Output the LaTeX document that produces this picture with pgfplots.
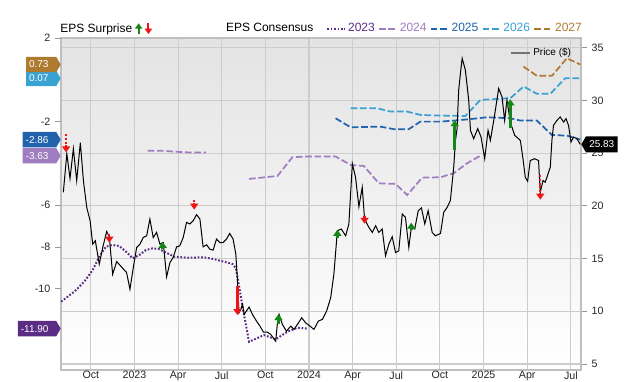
\documentclass[border=0pt]{standalone}
\usepackage{pgfplots}
\pgfplotsset{compat=1.18}
\usepackage{pgfplotstable}
\usepackage{fontspec}
\setmainfont{Liberation Sans}
\usetikzlibrary{shapes.symbols,arrows.meta}
\definecolor{c2023}{RGB}{91,44,131}
\definecolor{c2024}{RGB}{160,124,192}
\definecolor{c2025}{RGB}{33,99,172}
\definecolor{c2026}{RGB}{58,161,211}
\definecolor{c2027}{RGB}{174,122,48}
\definecolor{upg}{RGB}{20,135,20}
\definecolor{dnr}{RGB}{240,20,20}

\pgfplotstableread{
m P
-4.89 21.29
-4.65 24.94
-4.43 22.59
-4.20 25.42
-3.97 22.40
-3.72 25.99
-3.51 22.40
-3.28 19.86
-3.05 18.59
-2.87 16.37
-2.69 16.69
-2.42 14.47
-2.18 16.05
-1.91 17.57
-1.73 17.07
-1.50 13.51
-1.22 14.71
-0.54 13.67
-0.31 12.09
-0.08 14.14
0.15 16.05
0.38 16.37
0.60 16.99
0.84 17.16
1.06 18.75
1.29 16.99
1.52 17.48
1.75 16.37
1.98 16.52
2.21 13.26
2.44 14.62
2.66 15.10
2.90 16.11
3.12 16.21
3.35 16.99
3.58 18.43
3.81 18.28
4.04 18.59
4.27 19.16
4.50 18.75
4.72 16.11
4.96 16.30
5.18 15.89
5.41 15.80
5.64 16.85
5.87 16.52
6.09 16.52
6.33 16.85
6.55 17.38
6.78 16.85
6.97 15.42
7.08 12.88
7.19 9.86
7.31 10.18
7.43 10.66
7.54 9.70
7.70 10.02
7.88 10.40
8.11 9.70
8.39 9.07
8.63 8.59
8.87 8.02
9.14 8.02
9.37 7.80
9.71 7.16
9.83 8.90
9.94 9.70
10.17 8.75
10.45 8.11
10.74 8.59
10.97 8.28
11.20 8.75
11.50 9.38
11.77 8.90
12.07 8.59
12.34 8.28
12.64 9.07
12.92 9.23
13.21 10.02
13.49 11.28
13.71 13.51
13.95 17.64
14.22 17.80
14.52 17.16
14.74 18.27
14.86 21.13
14.98 23.99
15.20 22.71
15.43 19.92
15.66 21.76
15.82 18.75
16.12 17.95
16.35 17.48
16.58 18.11
16.80 17.48
17.03 17.80
17.26 15.26
17.49 16.37
17.72 17.07
17.95 15.57
18.17 15.73
18.41 19.23
18.63 18.91
18.86 16.05
19.05 18.11
19.27 17.80
19.51 19.54
19.73 19.80
19.96 18.28
20.19 19.54
20.47 17.48
20.69 17.16
21.04 17.38
21.26 19.38
21.50 19.86
21.72 20.50
21.95 23.67
22.07 26.21
22.18 27.32
22.29 30.97
22.41 32.56
22.53 33.99
22.75 32.88
22.98 30.02
23.10 27.16
23.32 26.37
23.60 27.32
23.83 26.52
24.08 24.47
24.31 27.16
24.47 26.21
24.74 28.43
25.04 31.13
25.27 30.33
25.45 28.11
25.61 30.02
25.84 27.95
26.14 26.69
26.53 26.21
26.71 24.47
26.87 22.71
27.03 22.33
27.21 24.30
27.51 24.47
27.78 24.30
27.90 21.29
28.09 22.40
28.24 22.24
28.59 23.67
28.70 26.21
28.81 27.64
29.05 28.11
29.27 28.43
29.50 27.95
29.67 28.27
29.84 27.64
30.01 26.05
30.19 26.52
30.42 26.37
30.65 25.83
}\price

\pgfplotstableread{
m P v
-4.70 26.78 -1.71
-1.73 17.35 -0.85
4.11 20.59 -0.95
27.90 22.88 -2.29
}\reddot
\pgfplotstableread{
m P v
7.08 12.40 -2.76
15.82 19.07 -0.77
}\redsolid
\pgfplotstableread{
m P v
1.94 15.92 0.67
9.90 8.78 0.95
13.95 16.97 0.76
19.03 17.73 0.67
22.02 25.26 2.86
25.84 27.35 2.76
}\green

\tikzset{
  tagL/.style={signal, signal to=east, signal pointer angle=120, fill=#1, text=white,
    font=\fontsize{7.5}{8}\selectfont, inner xsep=2.3pt, inner ysep=0pt, minimum height=11.5pt, anchor=east},
  tagR/.style={signal, signal to=west, signal pointer angle=120, fill=#1, text=white,
    font=\fontsize{7.5}{8}\selectfont, inner xsep=2.5pt, inner ysep=0pt, minimum height=12pt, anchor=west},
  cdots/.style={line width=1.5pt, dash pattern=on 1.3pt off 1.3pt},
  cdash/.style={line width=1.3pt, dash pattern=on 5pt off 2pt},
}

\pgfplotsset{
  common/.style={at={(45.75pt,9pt)}, anchor=south west, width=390pt, height=249pt,
    scale only axis, xmin=-5.05, xmax=30.7,
    /pgf/number format/assume math mode=true,
    ticklabel style={font=\fontsize{8}{9}\selectfont, text=black!85},
    tick align=outside, major tick length=4.5pt},
}

\begin{document}
\begin{tikzpicture}
\useasboundingbox (0,0) rectangle (480pt,286.5pt);

% Axis 1: price scale, background, grid
\begin{axis}[common,
  ymin=4.43, ymax=35.92,
  axis background/.style={shade, top color=black!11, middle color=white, bottom color=white},
  axis line style={draw=black!25, line width=0.8pt},
  grid=major, major grid style={draw=black!20, line width=0.8pt},
  xtick={-3,0,...,30},
  xticklabels={Oct,2023,Apr,Jul,Oct,2024,Apr,Jul,Oct,2025,Apr,Jul},
  ytick={5,10,...,35},
  ytick pos=right, yticklabel pos=right, xtick pos=bottom,
  xtick style={draw=none}, ytick style={draw=black!40, line width=0.6pt},
  xticklabel style={yshift=7pt},
  legend plot pos=right,
  legend style={at={(-0.007,1.028)}, anchor=west, draw=none, fill=none, inner sep=0pt,
    font=\fontsize{9}{10}\selectfont},
]
\addlegendimage{legend image code/.code={
  \draw[upg, line width=1.5pt, -{Triangle[width=5.5pt,length=4pt]}] (1.2pt,-4pt) -- (1.2pt,4pt);
  \draw[dnr, line width=1.5pt, -{Triangle[width=5.5pt,length=4pt]}] (8.5pt,4pt) -- (8.5pt,-4pt);}}
\addlegendentry{EPS Surprise}
\end{axis}

% Axis 2: EPS consensus
\begin{axis}[common,
  ymin=-13.88, ymax=2,
  axis line style={draw=none}, xtick=\empty,
  ytick={-10,-8,-6,-2,2}, ytick pos=left,
  ytick style={draw=black!40, line width=0.6pt},
  clip=false,
  legend columns=-1,
  legend style={at={(1.006,1.028)}, anchor=east, draw=none, fill=none, inner sep=0pt,
    font=\fontsize{9}{10}\selectfont, nodes={inner xsep=1.5pt, inner ysep=1pt},
    /tikz/every even column/.append style={column sep=1pt}},
  legend image code/.code={\draw[#1] (0pt,0pt) -- (13.5pt,0pt);},
]
\addlegendimage{empty legend}
\addlegendentry{EPS Consensus\kern7pt}
\addplot[c2023, cdots] coordinates {
(-5.04,-10.61) (-4.13,-10.13) (-3.45,-9.65) (-2.87,-9.10) (-2.42,-8.46) (-1.96,-7.98)
(-1.50,-7.90) (-1.04,-7.95) (-0.58,-8.22) (-0.12,-8.54) (0.33,-8.38) (0.79,-8.14)
(1.25,-8.06) (1.70,-8.10) (2.28,-8.30) (2.73,-8.46) (3.65,-8.51) (4.79,-8.49)
(5.48,-8.58) (6.16,-8.70) (6.74,-8.81) (6.97,-9.01) (7.12,-9.57) (7.43,-10.85)
(7.88,-12.53) (8.91,-12.21) (9.71,-12.41) (10.51,-12.05) (11.20,-11.86) (11.89,-11.90)};
\addlegendentry{\textcolor{c2023}{2023}}
\addplot[c2024, cdash] coordinates {
(7.88,-4.74) (9.83,-4.60) (10.86,-3.70) (11.89,-3.67) (13.83,-3.67) (14.86,-4.07)
(15.77,-4.12) (16.80,-4.95) (17.95,-4.98) (18.75,-5.51) (19.78,-4.68) (21.04,-4.66)
(21.95,-4.47) (22.87,-3.99) (23.78,-3.63)};
\addlegendentry{\textcolor{c2024}{2024}}
\addplot[c2025, cdash] coordinates {
(13.83,-1.84) (14.86,-2.27) (16.92,-2.24) (17.83,-2.36) (18.86,-2.36) (19.66,-2.00)
(21.04,-2.00) (21.95,-1.95) (23.09,-1.88) (24.24,-1.79) (25.84,-1.84) (26.53,-1.95)
(27.67,-1.95) (28.70,-2.64) (29.73,-2.67) (30.65,-2.86)};
\addlegendentry{\textcolor{c2025}{2025}}
\addplot[c2026, cdash] coordinates {
(14.86,-1.36) (16.69,-1.36) (17.60,-1.52) (18.75,-1.52) (19.66,-1.68) (21.04,-1.71)
(22.75,-1.73) (23.78,-0.96) (25.84,-0.88) (26.75,-0.32) (27.67,-0.67) (28.59,-0.67)
(29.62,0.08) (30.65,0.07)};
\addlegendentry{\textcolor{c2026}{2026}}
\addplot[c2027, cdash] coordinates {
(26.75,0.63) (27.67,0.19) (28.70,0.19) (29.73,1.03) (30.65,0.73)};
\addlegendentry{\textcolor{c2027}{2027}}
\addplot[c2024, cdash, forget plot] coordinates {
(0.91,-3.39) (1.82,-3.39) (2.85,-3.44) (3.88,-3.48) (4.91,-3.48)};
\node[tagL=c2026] at (axis cs:-5.05,0.07) {0.07\kern3.5pt};
\node[tagL=c2027] at (axis cs:-5.05,0.73) {0.73\kern3.5pt};
\node[tagL=c2024] at (axis cs:-5.05,-3.63) {-3.63\kern3.5pt};
\node[tagL=c2025] at (axis cs:-5.05,-2.86) {-2.86\kern3.5pt};
\node[tagL=c2023] at (axis cs:-5.05,-11.90) {-11.90\kern3.5pt};
\end{axis}

% Axis 3: price line and surprise arrows
\begin{axis}[common,
  ymin=4.43, ymax=35.92, hide axis, clip=false,
  legend style={at={(0.9865,0.955)}, anchor=east, draw=none, fill=none, inner sep=0pt,
    font=\fontsize{7.5}{8}\selectfont},
  legend image code/.code={\draw[black!55, line width=1.6pt] (0pt,0pt) -- (14pt,0pt);},
]
\addplot[black, line width=0.75pt] table[x=m, y=P] {\price};
\addlegendentry{Price (\$)}
\addplot[forget plot, dnr, line width=1.5pt, dash pattern=on 1.5pt off 1.2pt,
  -{Triangle[width=6pt,length=4.5pt]}, quiver={u=0, v=\thisrow{v}}] table[x=m, y=P] {\reddot};
\addplot[forget plot, dnr, line width=2pt,
  -{Triangle[width=6pt,length=4.5pt]}, quiver={u=0, v=\thisrow{v}}] table[x=m, y=P] {\redsolid};
\addplot[forget plot, upg, line width=2pt,
  -{Triangle[width=6pt,length=4.5pt]}, quiver={u=0, v=\thisrow{v}}] table[x=m, y=P] {\green};
\node[tagR=black] at (axis cs:30.7,25.83) {25.83};
\end{axis}
\end{tikzpicture}
\end{document}
